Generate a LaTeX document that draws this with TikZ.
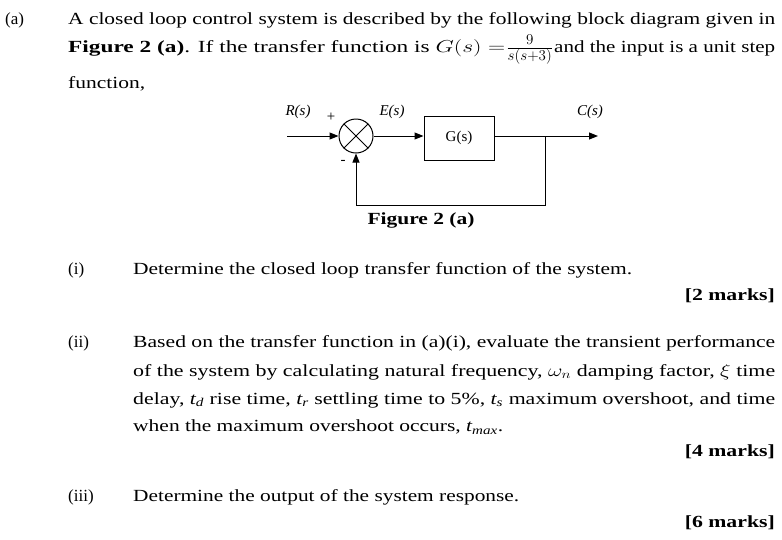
\documentclass[tikz,border=0pt]{standalone}
\usepackage{fontspec}
\setmainfont{Liberation Serif}
\usetikzlibrary{arrows.meta}
\newcommand\fw[2]{\resizebox{#1}{\height}{#2}}
\begin{document}
\begin{tikzpicture}[x=1pt,y=-1pt,
  txt/.style={anchor=west,inner sep=0pt,font=\fontsize{17}{20}\selectfont},
  rt/.style={anchor=east,inner sep=0pt,font=\fontsize{17}{20}\selectfont\bfseries},
  lbl/.style={inner sep=0pt,font=\fontsize{15}{17}\selectfont\itshape},
  sig/.style={line width=1pt,-{Triangle[length=9pt,width=7pt]}},
  ln/.style={line width=1pt}]
\useasboundingbox (0,0) rectangle (782,539);
% text
\node[txt] (pa) at (5,20) {(a)};
\node[txt] (l1) at (68,20) {\fw{707pt}{A closed loop control system is described by the following block diagram given in}};
\node[txt] (l2) at (68,48) {\fw{437pt}{\textbf{Figure 2 (a)}. If the transfer function is $G(s)=$}};
\node[txt] (fr) at (506,50) {\scalebox{1.25}{$\frac{9}{s(s+3)}$}};
\node[txt] (l2b) at (554,48) {\fw{221pt}{and the input is a unit step}};
\node[txt] (l3) at (68,84) {\fw{77pt}{function,}};
% diagram
\node[draw,circle,line width=1pt,minimum size=34pt,inner sep=0pt] (sum) at (356,136) {};
\draw[line width=1pt] (sum.north west) -- (sum.south east) (sum.north east) -- (sum.south west);
\node[draw,line width=1pt,minimum width=70pt,minimum height=44pt,inner sep=0pt,font=\fontsize{15}{17}\selectfont] (G) at (459,138) {G(s)};
\coordinate (in) at (287,136);
\coordinate (br) at (545,136);
\coordinate (out) at (598,136);
\coordinate (fb) at (545,205);
\coordinate (fb2) at (356,205);
\draw[sig] (in) -- (sum.west);
\draw[sig] (sum.east) -- (G.west |- sum.east);
\draw[ln] (G.east |- br) -- (br);
\draw[sig] (br) -- (out);
\draw[ln] (br) -- (fb) -- (fb2);
\draw[sig] (fb2) -- (sum.south);
\node[lbl] (R) at (298,112) {R(s)};
\node[lbl] (plus) at (331,117) {+};
\node[lbl] (E) at (392,112) {E(s)};
\node[lbl] (C) at (590,112) {C(s)};
\node[lbl] (minus) at (343,162) {-};
\node[inner sep=0pt,font=\fontsize{17}{20}\selectfont\bfseries] (fig) at (421,220) {\fw{107pt}{Figure 2 (a)}};
% questions
\node[txt] (i) at (68,270) {(i)};
\node[txt] (q1) at (133,270) {\fw{499pt}{Determine the closed loop transfer function of the system.}};
\node[rt] (m1) at (775,296) {\fw{90pt}{[2 marks]}};
\node[txt] (ii) at (68,343) {(ii)};
\node[txt] (q2a) at (133,343) {\fw{642pt}{Based on the transfer function in (a)(i), evaluate the transient performance}};
\node[txt] (q2b) at (133,372) {\fw{642pt}{of the system by calculating natural frequency, $\omega_n$ damping factor, $\xi$ time}};
\node[txt] (q2c) at (133,400) {\fw{642pt}{delay, \textit{t\textsubscript{d}} rise time, \textit{t\textsubscript{r}} settling time to 5\%, \textit{t\textsubscript{s}} maximum overshoot, and time}};
\node[txt] (q2d) at (133,427) {\fw{370pt}{when the maximum overshoot occurs, \textit{t\textsubscript{max}}.}};
\node[rt] (m2) at (775,452) {\fw{90pt}{[4 marks]}};
\node[txt] (iii) at (68,497) {(iii)};
\node[txt] (q3) at (133,497) {\fw{386pt}{Determine the output of the system response.}};
\node[rt] (m3) at (775,523) {\fw{90pt}{[6 marks]}};
\end{tikzpicture}
\end{document}
